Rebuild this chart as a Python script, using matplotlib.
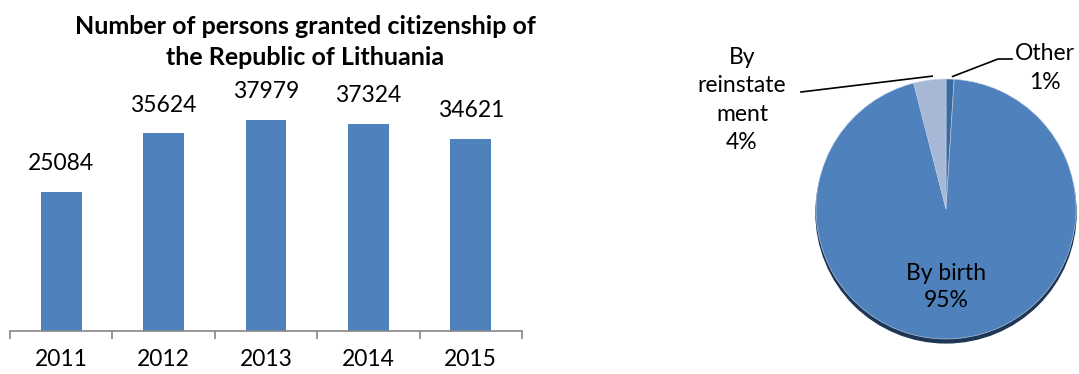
import numpy as np
import matplotlib
matplotlib.use('Agg')
import matplotlib.pyplot as plt
from matplotlib.patches import Circle

plt.rcParams['font.family'] = ['Lato', 'DejaVu Sans']

# 막대 그래프 데이터
years = ['2011', '2012', '2013', '2014', '2015']
granted = [25084, 35624, 37979, 37324, 34621]

# 원 그래프 데이터 (12시 방향부터 시계방향)
pie_labels = ['Other\n1%', 'By birth\n95%', 'By\nreinstate\nment\n4%']
pie_shares = [1, 95, 4]
pie_colors = ['#3C6A9F', '#4F81BD', '#A7B7D6']

fig = plt.figure(figsize=(10.79, 3.74), dpi=100)
W, H = 1079, 374

# ---- 막대 그래프 ----
ax = fig.add_axes([10 / W, 43 / H, 512 / W, 222 / H])
x = np.arange(len(years))
ax.bar(x, granted, width=0.4, color='#4F81BD')
ax.set_xlim(-0.5, len(years) - 0.5)
ax.set_ylim(0, 40000)
for xi, v in zip(x, granted):
    ax.text(xi, v + 3200, str(v), ha='center', va='bottom', fontsize=16.5)
for s in ['left', 'right', 'top']:
    ax.spines[s].set_visible(False)
ax.spines['bottom'].set_color('#868686')
ax.spines['bottom'].set_linewidth(1.2)
ax.set_yticks([])
ax.set_xticks(x)
ax.set_xticklabels(years, fontsize=16.5)
ax.tick_params(axis='x', which='major', length=0, pad=13)
ax.set_xticks(np.arange(len(years) + 1) - 0.5, minor=True)
ax.tick_params(axis='x', which='minor', length=6, color='#868686', width=1.2)
fig.text(305 / W, 1 - 42 / H, 'Number of persons granted citizenship of\nthe Republic of Lithuania',
         ha='center', va='center', fontsize=18, fontweight='bold', linespacing=1.45)

# ---- 원 그래프 ----
cx, cy, r = 946, 209, 130
pax = fig.add_axes([(cx - r) / W, (H - cy - r) / H, 2 * r / W, 2 * r / H])
pax.add_patch(Circle((0.0, -0.03), 1.0, color='#1E3655', zorder=0, clip_on=False))
wedges, _ = pax.pie(pie_shares, colors=pie_colors, startangle=90, counterclock=False,
                    radius=1.0, wedgeprops=dict(edgecolor='#C9D5EA', linewidth=0.4))
pax.set_xlim(-1, 1)
pax.set_ylim(-1, 1)
pax.set_aspect('auto')
pax.axis('off')
for w in wedges:
    w.set_clip_on(False)
    w.set_zorder(1)

def px(p, q):
    return ((p - cx) / r, (cy - q) / r)

mids = []
start = 90.0
for s in pie_shares:
    ang = start - s / sum(pie_shares) * 360 / 2
    mids.append(np.deg2rad(ang))
    start -= s / sum(pie_shares) * 360

# 라벨
pax.text(*px(1045, 68), pie_labels[0], ha='center', va='center', fontsize=16.5,
         linespacing=1.45, clip_on=False)
pax.text(*px(946, 287), pie_labels[1], ha='center', va='center', fontsize=16.5,
         linespacing=1.35, clip_on=False)
pax.text(*px(742, 100), pie_labels[2], ha='center', va='center', fontsize=16.5,
         linespacing=1.45, clip_on=False)

# 지시선
a = mids[0]
p0 = (0.98 * np.cos(a) + 0.02, 1.02 * np.sin(a))
pax.plot([p0[0], px(998, 59)[0], px(1012, 59)[0]], [p0[1], px(998, 59)[1], px(1012, 59)[1]],
         color='black', lw=1.2, clip_on=False)
a = mids[2]
p2 = (np.cos(a) * 0.85, np.sin(a) * 1.03)
pax.plot([p2[0], px(801, 92)[0]], [p2[1], px(801, 92)[1]], color='black', lw=1.2, clip_on=False)

fig.savefig('out.png', dpi=100)
